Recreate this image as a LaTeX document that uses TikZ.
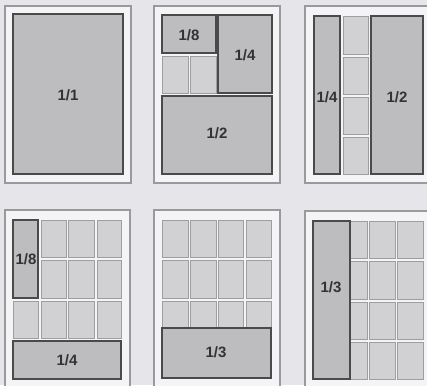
\documentclass[tikz,border=0pt]{standalone}
\usepackage{fontspec}
\setmainfont{Liberation Sans}
\usetikzlibrary{fit}
\definecolor{bgc}{HTML}{E6E6EA}
\definecolor{pagec}{HTML}{F4F4F6}
\definecolor{pagedraw}{HTML}{9A9A9C}
\definecolor{bigc}{HTML}{BDBDC0}
\definecolor{bigdraw}{HTML}{4A4A4A}
\definecolor{cellc}{HTML}{D1D1D4}
\definecolor{celldraw}{HTML}{9E9EA0}
\definecolor{txtc}{HTML}{333333}
\tikzset{
  page/.style={draw=pagedraw, fill=pagec, line width=1.2pt, inner sep=0pt},
  lbl/.style={text=txtc, font=\fontsize{15}{17}\selectfont\bfseries, inner sep=0pt},
  bigbox/.style={draw=bigdraw, fill=bigc, line width=1.3pt, inner sep=0pt},
  cell/.style={draw=celldraw, fill=cellc, line width=0.8pt, inner sep=0pt},
}
\begin{document}
\begin{tikzpicture}[x=1pt,y=-1pt]
\fill[bgc] (0,0) rectangle (427,385);
\useasboundingbox (0,0) rectangle (427,385);
% Panel 1
\node[page, fit={(5,6) (131,183)}] (pg1) {};
\node[bigbox, fit={(13,14) (123,174)}] (a1) {};
\node[lbl] (a1t) at (68,95) {1/1};
% Panel 2
\node[page, fit={(154,6) (280,183)}] (pg2) {};
\node[bigbox, fit={(162,15) (216,53)}] (b8) {};
\node[lbl] (b8t) at (189,35) {1/8};
\node[bigbox, fit={(218,15) (272,93)}] (b4) {};
\node[lbl] (b4t) at (245,55) {1/4};
\node[cell, fit={(162,56) (188,93)}] (bc1) {};
\node[cell, fit={(190,56) (216,93)}] (bc2) {};
\node[bigbox, fit={(162,96) (272,174)}] (b2) {};
\node[lbl] (b2t) at (217,133) {1/2};
% Panel 3
\node[page, fit={(305,6) (432,183)}] (pg3) {};
\node[bigbox, fit={(314,16) (340,174)}] (c4) {};
\node[lbl] (c4t) at (327,97) {1/4};
\node[cell, fit={(343,16) (368,54)}] (cc1) {};
\node[cell, fit={(343,57) (368,94)}] (cc2) {};
\node[cell, fit={(343,97) (368,134)}] (cc3) {};
\node[cell, fit={(343,137) (368,174)}] (cc4) {};
\node[bigbox, fit={(371,16) (423,174)}] (c2) {};
\node[lbl] (c2t) at (397,97) {1/2};
% Panel 4
\node[page, fit={(5,210) (130,392)}] (pg4) {};
\foreach \r/\ya/\yb in {1/220/257, 2/260/298, 3/301/338}{
  \foreach \c/\xa/\xb in {1/13/38, 2/41/66, 3/68/94, 4/97/121}{
    \node[cell, fit={(\xa,\ya) (\xb,\yb)}] (d\r\c) {};
  }
}
\node[bigbox, fit={(13,220) (38,298)}] (d8) {};
\node[lbl] (d8t) at (26,259) {1/8};
\node[bigbox, fit={(13,341) (121,379)}] (d4) {};
\node[lbl] (d4t) at (67,360) {1/4};
% Panel 5
\node[page, fit={(154,210) (280,392)}] (pg5) {};
\foreach \r/\ya/\yb in {1/220/257, 2/260/298, 3/301/338}{
  \foreach \c/\xa/\xb in {1/162/188, 2/190/216, 3/218/243, 4/246/271}{
    \node[cell, fit={(\xa,\ya) (\xb,\yb)}] (e\r\c) {};
  }
}
\node[bigbox, fit={(162,328) (271,378)}] (e3) {};
\node[lbl] (e3t) at (216,352) {1/3};
% Panel 6
\node[page, fit={(305,211) (432,392)}] (pg6) {};
\foreach \r/\ya/\yb in {1/221/258, 2/261/299, 3/302/339, 4/342/379}{
  \foreach \c/\xa/\xb in {1/313/339, 2/341/367, 3/369/395, 4/397/423}{
    \node[cell, fit={(\xa,\ya) (\xb,\yb)}] (f\r\c) {};
  }
}
\node[bigbox, fit={(313,221) (350,379)}] (f3) {};
\node[lbl] (f3t) at (331,287) {1/3};
\end{tikzpicture}
\end{document}
